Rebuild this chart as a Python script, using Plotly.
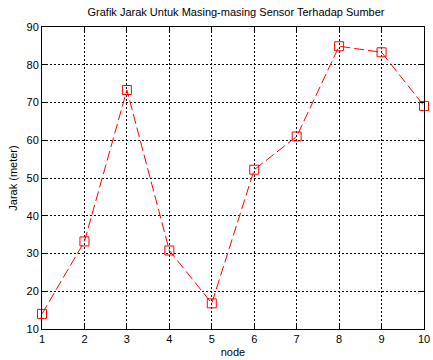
import plotly.graph_objects as go

nodes = [1, 2, 3, 4, 5, 6, 7, 8, 9, 10]
jarak = [14, 33.2, 73.3, 30.8, 16.8, 52.2, 61, 84.9, 83.3, 69.1]
x_ticks = [1, 2, 3, 4, 5, 6, 7, 8, 9, 10]
y_ticks = [10, 20, 30, 40, 50, 60, 70, 80, 90]

fig = go.Figure()
fig.add_trace(go.Scatter(
    x=nodes, y=jarak, mode="lines+markers",
    line=dict(color="#ff0000", width=1, dash="10px,4px"),
    marker=dict(symbol="square-open", size=9, color="#ff0000", line=dict(width=1)),
    cliponaxis=False,
    showlegend=False,
))

axis_common = dict(
    showline=True, linecolor="black", linewidth=1, mirror="ticks",
    showgrid=True, gridcolor="black", gridwidth=1, griddash="2px,2px",
    ticks="inside", ticklen=4, tickcolor="black",
    tickfont=dict(family="Liberation Sans, Arial", size=11, color="black"),
    zeroline=False, ticklabeloverflow="allow",
)
fig.update_xaxes(range=[1, 10], tickvals=x_ticks, **axis_common,
                 title=dict(text="node", font=dict(family="Liberation Sans, Arial", size=11, color="black"), standoff=4))
fig.update_yaxes(range=[10, 90], tickvals=y_ticks, **axis_common,
                 title=dict(text="Jarak (meter)", font=dict(family="Liberation Sans, Arial", size=11, color="black"), standoff=6))

fig.update_layout(
    width=433, height=360,
    margin=dict(l=42, r=3, t=27, b=30),
    paper_bgcolor="white", plot_bgcolor="white",
    title=dict(text="Grafik Jarak Untuk Masing-masing Sensor Terhadap Sumber",
               font=dict(family="Liberation Sans, Arial", size=11, color="black"),
               x=0.545, xanchor="center", y=0.965, yanchor="middle"),
)
fig.write_html("out.html")
